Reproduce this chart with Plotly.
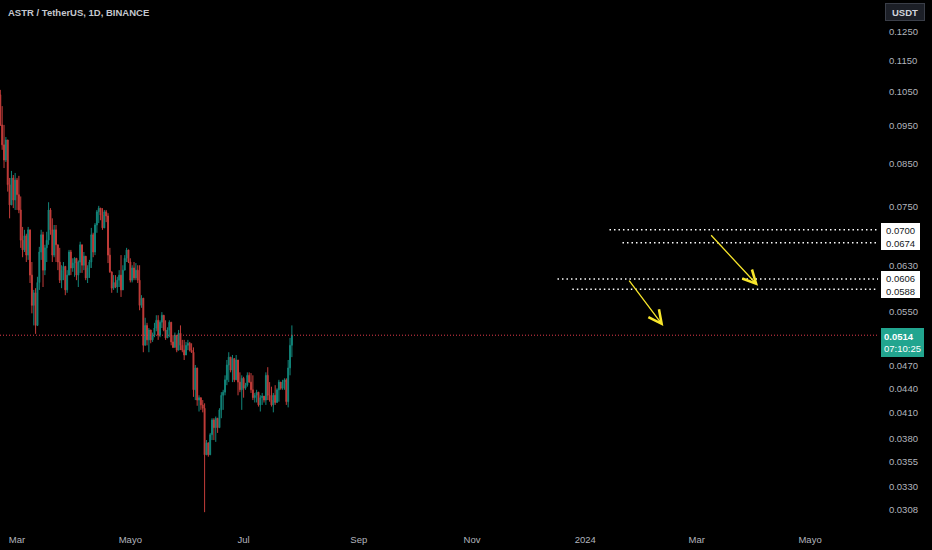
import numpy as np
import pandas as pd
import plotly.graph_objects as go

# ---------------- data ----------------
start_date = "2023-02-20"
first_open = 0.1040
closes = [
    0.0952, 0.0898, 0.0859, 0.0911, 0.0799, 0.0753, 0.0815, 0.0764, 0.0810, 0.0776,
    0.0742, 0.0679, 0.0660, 0.0688, 0.0650, 0.0700, 0.0613, 0.0561, 0.0582, 0.0529,
    0.0600, 0.0656, 0.0690, 0.0622, 0.0664, 0.0679, 0.0742, 0.0700, 0.0650, 0.0700,
    0.0670, 0.0637, 0.0604, 0.0622, 0.0629, 0.0587, 0.0613, 0.0656, 0.0626, 0.0635,
    0.0644, 0.0613, 0.0637, 0.0670, 0.0631, 0.0648, 0.0608, 0.0626, 0.0637, 0.0690,
    0.0656, 0.0710, 0.0738, 0.0746, 0.0731, 0.0704, 0.0738, 0.0729, 0.0650, 0.0619,
    0.0590, 0.0600, 0.0592, 0.0604, 0.0613, 0.0587, 0.0622, 0.0644, 0.0660, 0.0637,
    0.0604, 0.0626, 0.0608, 0.0622, 0.0604, 0.0561, 0.0573, 0.0499, 0.0529, 0.0507,
    0.0522, 0.0507, 0.0514, 0.0525, 0.0537, 0.0514, 0.0534, 0.0545, 0.0522, 0.0510,
    0.0522, 0.0534, 0.0504, 0.0496, 0.0514, 0.0492, 0.0517, 0.0499, 0.0492, 0.0485,
    0.0499, 0.0502, 0.0492, 0.0489, 0.0438, 0.0467, 0.0425, 0.0428, 0.0419, 0.0415,
    0.0362, 0.0375, 0.0362, 0.0384, 0.0401, 0.0392, 0.0403, 0.0392, 0.0413, 0.0431,
    0.0435, 0.0451, 0.0471, 0.0482, 0.0464, 0.0480, 0.0451, 0.0478, 0.0448, 0.0438,
    0.0453, 0.0440, 0.0444, 0.0457, 0.0448, 0.0438, 0.0428, 0.0431, 0.0435, 0.0419,
    0.0428, 0.0430, 0.0425, 0.0457, 0.0431, 0.0425, 0.0419, 0.0431, 0.0422, 0.0438,
    0.0448, 0.0440, 0.0448, 0.0451, 0.0423, 0.0467, 0.0499, 0.0514,
]
highs = [
    0.1055, 0.1006, 0.0952, 0.0919, 0.0911, 0.0815, 0.0832, 0.0822, 0.0827, 0.0815,
    0.0820, 0.0772, 0.0706, 0.0700, 0.0692, 0.0706, 0.0700, 0.0637, 0.0587, 0.0590,
    0.0610, 0.0666, 0.0700, 0.0696, 0.0670, 0.0696, 0.0759, 0.0746, 0.0724, 0.0710,
    0.0710, 0.0670, 0.0664, 0.0631, 0.0637, 0.0629, 0.0622, 0.0660, 0.0660, 0.0644,
    0.0646, 0.0644, 0.0640, 0.0676, 0.0654, 0.0656, 0.0644, 0.0631, 0.0641, 0.0704,
    0.0694, 0.0714, 0.0742, 0.0751, 0.0746, 0.0746, 0.0742, 0.0742, 0.0735, 0.0664,
    0.0619, 0.0613, 0.0613, 0.0610, 0.0622, 0.0650, 0.0631, 0.0650, 0.0664, 0.0660,
    0.0644, 0.0631, 0.0637, 0.0635, 0.0631, 0.0631, 0.0578, 0.0570, 0.0541, 0.0533,
    0.0525, 0.0522, 0.0518, 0.0533, 0.0545, 0.0545, 0.0537, 0.0550, 0.0543, 0.0537,
    0.0526, 0.0537, 0.0525, 0.0514, 0.0518, 0.0511, 0.0522, 0.0529, 0.0507, 0.0507,
    0.0504, 0.0507, 0.0504, 0.0502, 0.0496, 0.0471, 0.0460, 0.0431, 0.0428, 0.0425,
    0.0421, 0.0378, 0.0375, 0.0386, 0.0403, 0.0403, 0.0405, 0.0403, 0.0415, 0.0435,
    0.0438, 0.0457, 0.0478, 0.0489, 0.0480, 0.0485, 0.0480, 0.0485, 0.0478, 0.0461,
    0.0457, 0.0455, 0.0447, 0.0461, 0.0461, 0.0460, 0.0457, 0.0434, 0.0438, 0.0434,
    0.0431, 0.0434, 0.0430, 0.0461, 0.0468, 0.0448, 0.0442, 0.0434, 0.0444, 0.0440,
    0.0451, 0.0447, 0.0451, 0.0453, 0.0453, 0.0478, 0.0510, 0.0529,
]
lows = [
    0.0949, 0.0885, 0.0839, 0.0854, 0.0783, 0.0724, 0.0753, 0.0746, 0.0742, 0.0742,
    0.0735, 0.0664, 0.0646, 0.0656, 0.0637, 0.0641, 0.0599, 0.0548, 0.0529, 0.0516,
    0.0528, 0.0587, 0.0641, 0.0592, 0.0613, 0.0637, 0.0670, 0.0690, 0.0637, 0.0646,
    0.0637, 0.0622, 0.0599, 0.0590, 0.0604, 0.0578, 0.0582, 0.0613, 0.0613, 0.0619,
    0.0610, 0.0604, 0.0592, 0.0617, 0.0617, 0.0622, 0.0604, 0.0599, 0.0608, 0.0626,
    0.0646, 0.0650, 0.0694, 0.0714, 0.0720, 0.0700, 0.0704, 0.0716, 0.0635, 0.0617,
    0.0582, 0.0587, 0.0590, 0.0582, 0.0592, 0.0575, 0.0600, 0.0622, 0.0637, 0.0635,
    0.0600, 0.0600, 0.0604, 0.0604, 0.0599, 0.0553, 0.0557, 0.0489, 0.0499, 0.0499,
    0.0489, 0.0502, 0.0504, 0.0511, 0.0520, 0.0507, 0.0511, 0.0525, 0.0520, 0.0507,
    0.0510, 0.0511, 0.0499, 0.0495, 0.0496, 0.0489, 0.0496, 0.0492, 0.0489, 0.0478,
    0.0489, 0.0492, 0.0490, 0.0488, 0.0429, 0.0425, 0.0418, 0.0411, 0.0413, 0.0410,
    0.0306, 0.0362, 0.0360, 0.0362, 0.0378, 0.0378, 0.0376, 0.0386, 0.0392, 0.0403,
    0.0413, 0.0431, 0.0444, 0.0448, 0.0461, 0.0448, 0.0448, 0.0453, 0.0431, 0.0435,
    0.0413, 0.0428, 0.0438, 0.0442, 0.0447, 0.0434, 0.0425, 0.0422, 0.0422, 0.0417,
    0.0411, 0.0419, 0.0422, 0.0419, 0.0425, 0.0423, 0.0417, 0.0410, 0.0419, 0.0423,
    0.0423, 0.0438, 0.0438, 0.0438, 0.0419, 0.0416, 0.0457, 0.0482,
]

last_price = 0.0514
countdown = "07:10:25"

level_values = [0.0700, 0.0674, 0.0606, 0.0588]
level_starts = ["2024-01-14", "2024-01-21", "2023-12-17", "2023-12-25"]
level_labels = ["0.0700", "0.0674", "0.0606", "0.0588"]
level_label_nudge = [0, 0, 1, -2]

arrow_starts = [("2024-01-24", 0.0606), ("2024-03-08", 0.0692)]
arrow_ends = [("2024-02-12", 0.0528), ("2024-04-03", 0.0594)]

ytick_vals = [0.1250, 0.1150, 0.1050, 0.0950, 0.0850, 0.0750, 0.0630, 0.0550,
              0.0470, 0.0440, 0.0410, 0.0380, 0.0355, 0.0330, 0.0308]
xtick_dates = ["2023-03-01", "2023-05-01", "2023-07-01", "2023-09-01",
               "2023-11-01", "2024-01-01", "2024-03-01", "2024-05-01"]
xtick_text = ["Mar", "Mayo", "Jul", "Sep", "Nov", "2024", "Mar", "Mayo"]

x_range = ["2023-02-19 20:00", "2024-06-06 14:00"]
y_range = [0.02973, 0.1373]

# ---------------- derived ----------------
dates = pd.date_range(start_date, periods=len(closes), freq="D")
opens = [first_open] + closes[:-1]
highs = [max(h, o, c) for h, o, c in zip(highs, opens, closes)]
lows = [min(l, o, c) for l, o, c in zip(lows, opens, closes)]

UP = "#12857a"
DOWN = "#c43d3a"
FONT = "Liberation Sans"
TXT = "#b2b5be"

fig = go.Figure()

# current price dotted line
fig.add_trace(go.Scatter(
    x=x_range, y=[last_price, last_price], mode="lines",
    line=dict(color="#e23a4c", width=1, dash="1px,2px"),
    hoverinfo="skip", showlegend=False))

fig.add_trace(go.Candlestick(
    x=dates, open=opens, high=highs, low=lows, close=closes,
    increasing=dict(line=dict(color=UP, width=1), fillcolor=UP),
    decreasing=dict(line=dict(color=DOWN, width=1), fillcolor=DOWN),
    whiskerwidth=0, showlegend=False))

# horizontal dotted drawings
for lv, st in zip(level_values, level_starts):
    fig.add_trace(go.Scatter(
        x=[st, x_range[1]], y=[lv, lv], mode="lines",
        line=dict(color="#ffffff", width=1.5, dash="1.5px,3px"),
        hoverinfo="skip", showlegend=False))

annotations = []
# yellow arrows
for (sx, sy), (ex, ey) in zip(arrow_starts, arrow_ends):
    annotations.append(dict(
        x=ex, y=np.log10(ey), ax=sx, ay=np.log10(sy),
        xref="x", yref="y", axref="x", ayref="y",
        text="", showarrow=True, arrowhead=5, arrowsize=2,
        arrowwidth=1.3, arrowcolor="#f7e52b"))

# level labels on price axis
for lv, lab, nd in zip(level_values, level_labels, level_label_nudge):
    annotations.append(dict(
        x=1, y=np.log10(lv), xref="paper", yref="y", xanchor="left",
        xshift=3, yshift=nd, text=lab, showarrow=False, width=36, align="center",
        font=dict(family=FONT, size=9.5, color="#131722"),
        bgcolor="#ffffff", bordercolor="#ffffff", borderpad=0.5))

# last price tag
annotations.append(dict(
    x=1, y=np.log10(last_price), xref="paper", yref="y", xanchor="left",
    yanchor="top", yshift=7, xshift=3,
    text=f"<b>{last_price:.4f}</b><br>{countdown}", align="left",
    showarrow=False, font=dict(family=FONT, size=9.5, color="#ffffff"),
    bgcolor="#22a58f", bordercolor="#22a58f", borderpad=2))

# title
annotations.append(dict(
    x=0, y=1, xref="paper", yref="paper", xanchor="left", yanchor="top",
    xshift=6, yshift=-5, text="<b>ASTR / TetherUS, 1D, BINANCE</b>",
    showarrow=False, font=dict(family=FONT, size=9.5, color="#c4c7ce")))

# currency button
annotations.append(dict(
    x=1, y=1, xref="paper", yref="paper", xanchor="left", yanchor="top",
    xshift=7, yshift=-3, text="<b>USDT</b>", showarrow=False,
    width=34, height=12, align="center",
    font=dict(family=FONT, size=9.5, color="#d1d4dc"),
    bgcolor="#1c1f27", bordercolor="#3a3e48", borderwidth=1, borderpad=2))

fig.update_layout(
    width=932, height=550,
    margin=dict(l=0, r=54, t=0, b=28),
    paper_bgcolor="#000000", plot_bgcolor="#000000",
    showlegend=False,
    annotations=annotations,
    xaxis=dict(
        type="date", range=x_range, rangeslider=dict(visible=False),
        showgrid=False, zeroline=False, showline=False,
        tickvals=xtick_dates, ticktext=xtick_text,
        ticks="outside", ticklen=9, tickcolor="rgba(0,0,0,0)",
        tickfont=dict(family=FONT, size=9.5, color=TXT)),
    yaxis=dict(
        type="log", side="right",
        range=[np.log10(y_range[0]), np.log10(y_range[1])],
        showgrid=False, zeroline=False, showline=False,
        tickvals=ytick_vals, ticktext=[f"{v:.4f}" for v in ytick_vals],
        ticks="outside", ticklen=8, tickcolor="rgba(0,0,0,0)",
        tickfont=dict(family=FONT, size=9.5, color=TXT)),
)

fig.write_html(
    "out.html",
    config={"displayModeBar": False},
    post_script="document.body.style.margin='0';document.body.style.background='#000';"
                "document.body.style.overflow='hidden';")
